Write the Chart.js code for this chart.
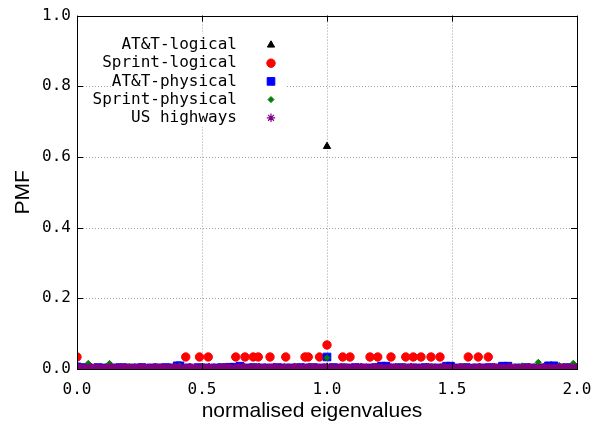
<!DOCTYPE html>
<html>
<head>
<meta charset="utf-8">
<script src="https://cdn.jsdelivr.net/npm/chart.js@4/dist/chart.umd.min.js"></script>
<style>
  html, body { margin: 0; padding: 0; background: #fff; }
  #wrap { width: 607px; height: 431px; }
</style>
</head>
<body>
<div id="wrap"><canvas id="pmfChart" width="607" height="431"></canvas></div>
<script>
// Series names as in the key
const seriesNames = ['AT&T-logical', 'Sprint-logical', 'AT&T-physical', 'Sprint-physical', 'US highways'];

// Axis tick values
const xTicks = [0.0, 0.5, 1.0, 1.5, 2.0];
const yTicks = [0.0, 0.2, 0.4, 0.6, 0.8, 1.0];

// AT&T-logical (black triangles)
const attLogicalX = [0.0, 1.0, 1.0, 2.0];
const attLogicalY = [0.004, 0.63, 0.004, 0.004];

// Sprint-logical (red circles)
const sprintLogicalX = [0.0, 0.435, 0.49, 0.525, 0.635, 0.672, 0.705, 0.725, 0.772, 0.835, 0.912, 0.925, 0.97,
  1.0, 1.063, 1.092, 1.172, 1.203, 1.256, 1.315, 1.345, 1.376, 1.416, 1.452, 1.565, 1.605, 1.645];
const sprintLogicalY = [0.034, 0.034, 0.034, 0.034, 0.034, 0.034, 0.034, 0.034, 0.034, 0.034, 0.034, 0.034, 0.034,
  0.068, 0.034, 0.034, 0.034, 0.034, 0.034, 0.034, 0.034, 0.034, 0.034, 0.034, 0.034, 0.034, 0.034];

// AT&T-physical (blue squares)
const attPhysicalX = [0.0, 0.018, 0.047, 0.083, 0.106, 0.139, 0.171, 0.198, 0.232, 0.259, 0.294, 0.318, 0.353, 0.377,
  0.401, 0.412, 0.447, 0.486, 0.514, 0.553, 0.579, 0.611, 0.628, 0.652, 0.683, 0.706, 0.741, 0.768, 0.802, 0.829,
  0.861, 0.893, 0.918, 0.947, 0.981, 1.0, 1.024, 1.052, 1.079, 1.113, 1.138, 1.171, 1.196, 1.218, 1.236, 1.268,
  1.297, 1.334, 1.358, 1.392, 1.417, 1.446, 1.478, 1.494, 1.528, 1.557, 1.593, 1.618, 1.649, 1.681, 1.702, 1.724,
  1.766, 1.797, 1.826, 1.862, 1.886, 1.908, 1.941, 1.969, 2.0];
const attPhysicalY = [0.006, 0.004, 0.003, 0.004, 0.003, 0.003, 0.004, 0.003, 0.003, 0.004, 0.003, 0.003, 0.004, 0.003,
  0.009, 0.009, 0.003, 0.004, 0.003, 0.003, 0.004, 0.005, 0.005, 0.008, 0.003, 0.004, 0.003, 0.003, 0.004, 0.003,
  0.003, 0.004, 0.003, 0.004, 0.003, 0.034, 0.004, 0.003, 0.003, 0.004, 0.003, 0.003, 0.004, 0.008, 0.008, 0.003,
  0.004, 0.003, 0.003, 0.004, 0.003, 0.003, 0.008, 0.008, 0.003, 0.004, 0.003, 0.003, 0.004, 0.003, 0.008, 0.008,
  0.003, 0.004, 0.003, 0.003, 0.009, 0.009, 0.003, 0.004, 0.004];

// Sprint-physical (green diamonds)
const sprintPhysicalX = [0.0, 0.045, 0.13, 0.21, 0.32, 0.41, 0.5, 0.58, 0.71, 0.83, 0.94, 1.0, 1.07, 1.19, 1.31,
  1.42, 1.55, 1.67, 1.78, 1.845, 1.93, 1.985];
const sprintPhysicalY = [0.006, 0.016, 0.016, 0.008, 0.007, 0.009, 0.008, 0.007, 0.008, 0.007, 0.008, 0.032, 0.008,
  0.007, 0.008, 0.007, 0.008, 0.007, 0.009, 0.019, 0.01, 0.016];

// US highways (purple stars)
const usHighwaysX = [0.0, 0.016, 0.037, 0.055, 0.078, 0.094, 0.117, 0.135, 0.152, 0.176, 0.193, 0.214, 0.231, 0.255,
  0.272, 0.291, 0.313, 0.334, 0.351, 0.372, 0.392, 0.409, 0.433, 0.451, 0.47, 0.493, 0.508, 0.529, 0.548, 0.571,
  0.589, 0.607, 0.632, 0.648, 0.667, 0.69, 0.709, 0.727, 0.75, 0.768, 0.787, 0.811, 0.829, 0.846, 0.87, 0.889,
  0.908, 0.927, 0.949, 0.967, 0.986, 1.0, 1.019, 1.041, 1.058, 1.077, 1.099, 1.118, 1.137, 1.156, 1.179, 1.197,
  1.214, 1.238, 1.257, 1.275, 1.296, 1.315, 1.336, 1.354, 1.373, 1.397, 1.414, 1.433, 1.455, 1.472, 1.493, 1.512,
  1.534, 1.551, 1.572, 1.591, 1.611, 1.63, 1.652, 1.669, 1.691, 1.708, 1.73, 1.749, 1.768, 1.789, 1.807, 1.829,
  1.848, 1.867, 1.889, 1.906, 1.928, 1.947, 1.966, 1.984, 2.0];
const usHighwaysY = [0.005, 0.004, 0.003, 0.005, 0.004, 0.003, 0.004, 0.005, 0.003, 0.004, 0.005, 0.003, 0.004, 0.005,
  0.004, 0.003, 0.005, 0.004, 0.003, 0.004, 0.005, 0.004, 0.003, 0.005, 0.004, 0.003, 0.004, 0.005, 0.004, 0.003,
  0.005, 0.004, 0.003, 0.004, 0.005, 0.003, 0.004, 0.005, 0.004, 0.003, 0.005, 0.004, 0.003, 0.004, 0.005, 0.004,
  0.003, 0.005, 0.004, 0.003, 0.004, 0.006, 0.004, 0.003, 0.005, 0.004, 0.003, 0.004, 0.005, 0.004, 0.003, 0.005,
  0.004, 0.003, 0.004, 0.005, 0.003, 0.004, 0.005, 0.004, 0.003, 0.005, 0.004, 0.003, 0.004, 0.005, 0.004, 0.003,
  0.005, 0.004, 0.003, 0.004, 0.005, 0.003, 0.004, 0.005, 0.004, 0.003, 0.005, 0.004, 0.003, 0.004, 0.005, 0.004,
  0.003, 0.005, 0.004, 0.003, 0.004, 0.005, 0.004, 0.003, 0.004];

function toPoints(xs, ys) {
  return xs.map((x, i) => ({ x: x, y: ys[i] }));
}

const monoFont = '"DejaVu Sans Mono", "Liberation Mono", monospace';
const sansFont = '"Liberation Sans", Arial, Helvetica, sans-serif';

// gnuplot-like dotted grid, drawn under the points
const gridPlugin = {
  id: 'dottedGrid',
  beforeDatasetsDraw(chart) {
    const { ctx, chartArea: a, scales } = chart;
    ctx.save();
    ctx.strokeStyle = '#a0a0a0';
    ctx.lineWidth = 1;
    ctx.setLineDash([1, 2]);
    xTicks.slice(1, -1).forEach(v => {
      const px = Math.round(scales.x.getPixelForValue(v)) + 0.5;
      ctx.beginPath(); ctx.moveTo(px, a.top); ctx.lineTo(px, a.bottom); ctx.stroke();
    });
    yTicks.slice(1, -1).forEach(v => {
      const py = Math.round(scales.y.getPixelForValue(v)) + 0.5;
      ctx.beginPath(); ctx.moveTo(a.left, py); ctx.lineTo(a.right, py); ctx.stroke();
    });
    ctx.restore();
  },
  afterDatasetsDraw(chart) {
    const { ctx, chartArea: a, scales } = chart;
    ctx.save();
    ctx.strokeStyle = '#000';
    ctx.lineWidth = 1;
    ctx.setLineDash([]);
    // inward ticks, mirrored
    const tl = 6;
    ctx.beginPath();
    xTicks.forEach(v => {
      const px = Math.round(scales.x.getPixelForValue(v)) + 0.5;
      ctx.moveTo(px, a.bottom); ctx.lineTo(px, a.bottom - tl);
      ctx.moveTo(px, a.top); ctx.lineTo(px, a.top + tl);
    });
    yTicks.forEach(v => {
      const py = Math.round(scales.y.getPixelForValue(v)) + 0.5;
      ctx.moveTo(a.left, py); ctx.lineTo(a.left + tl, py);
      ctx.moveTo(a.right, py); ctx.lineTo(a.right - tl, py);
    });
    ctx.stroke();
    ctx.strokeRect(Math.round(a.left) + 0.5, Math.round(a.top) + 0.5,
      Math.round(a.right - a.left), Math.round(a.bottom - a.top));

    // key box (white, no border), text right-aligned with sample to the right
    ctx.fillStyle = '#fff';
    ctx.fillRect(111, 34, 175, 93);
    ctx.font = '16px ' + monoFont;
    ctx.textAlign = 'right';
    ctx.textBaseline = 'middle';
    chart.data.datasets.forEach((ds, i) => {
      const y = 45 + i * 18.2;
      ctx.fillStyle = '#000';
      ctx.fillText(ds.label, 237, y);
      ctx.fillStyle = ds.backgroundColor;
      ctx.strokeStyle = ds.borderColor;
      const bw = ds.pointStyle === 'star' ? 1.2 : ds.borderWidth;
      ctx.lineWidth = bw;
      Chart.helpers.drawPoint(ctx, {
        pointStyle: ds.pointStyle, radius: ds.pointRadius, borderWidth: bw, rotation: 0
      }, 271, y);
    });

    // x axis label, centred as in the original figure
    ctx.fillStyle = '#000';
    ctx.font = '21px ' + sansFont;
    ctx.textAlign = 'center';
    ctx.textBaseline = 'middle';
    ctx.fillText('normalised eigenvalues', 312, 411);
    ctx.restore();
  }
};

const datasets = [
  { label: seriesNames[0], data: toPoints(attLogicalX, attLogicalY), pointStyle: 'triangle', pointRadius: 4.2,
    backgroundColor: '#000000', borderColor: '#000000', borderWidth: 1, order: 5 },
  { label: seriesNames[1], data: toPoints(sprintLogicalX, sprintLogicalY), pointStyle: 'circle', pointRadius: 4.2,
    backgroundColor: '#ff0000', borderColor: '#ff0000', borderWidth: 1, order: 4 },
  { label: seriesNames[2], data: toPoints(attPhysicalX, attPhysicalY), pointStyle: 'rect', pointRadius: 5.4,
    backgroundColor: '#0000ff', borderColor: '#0000ff', borderWidth: 1, order: 3 },
  { label: seriesNames[3], data: toPoints(sprintPhysicalX, sprintPhysicalY), pointStyle: 'rectRot', pointRadius: 3,
    backgroundColor: '#008000', borderColor: '#008000', borderWidth: 1, order: 2 },
  { label: seriesNames[4], data: toPoints(usHighwaysX, usHighwaysY), pointStyle: 'star', pointRadius: 4.2,
    backgroundColor: '#800080', borderColor: '#800080', borderWidth: 2.2, order: 1 }
];

const pmfChart = new Chart(document.getElementById('pmfChart'), {
  type: 'scatter',
  data: { datasets: datasets },
  plugins: [gridPlugin],
  options: {
    responsive: false,
    animation: false,
    layout: { padding: { top: 15, right: 30, left: 0, bottom: 0 } },
    plugins: { legend: { display: false }, tooltip: { enabled: false } },
    scales: {
      x: {
        type: 'linear', min: 0, max: 2,
        afterBuildTicks: s => { s.ticks = xTicks.map(v => ({ value: v })); },
        afterFit: s => { s.height = 62; },
        grid: { display: false, drawTicks: false },
        border: { display: false },
        ticks: { color: '#000', padding: 11, maxRotation: 0, font: { family: monoFont, size: 16 },
          callback: v => Number(v).toFixed(1) },
        title: { display: false, text: 'normalised eigenvalues' }
      },
      y: {
        type: 'linear', min: 0, max: 1,
        afterBuildTicks: s => { s.ticks = yTicks.map(v => ({ value: v })); },
        afterFit: s => { s.width = 77; },
        grid: { display: false, drawTicks: false },
        border: { display: false },
        ticks: { color: '#000', padding: 6, font: { family: monoFont, size: 16 },
          callback: v => Number(v).toFixed(1) },
        title: { display: true, text: 'PMF', color: '#000',
          font: { family: sansFont, size: 21 }, padding: { top: 11, bottom: 0 } }
      }
    }
  }
});
</script>
</body>
</html>
